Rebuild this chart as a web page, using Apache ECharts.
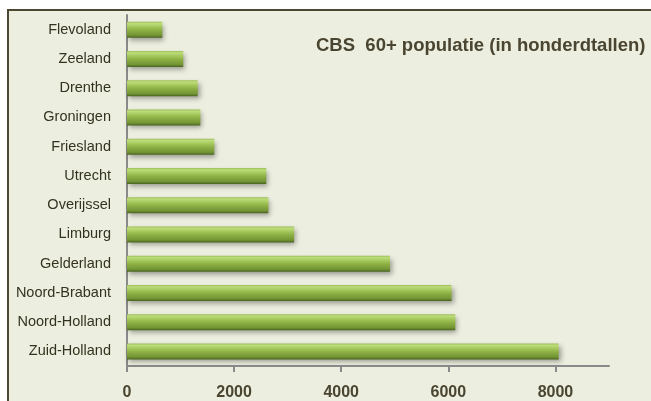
<!DOCTYPE html>
<html>
<head>
<meta charset="utf-8">
<script src="https://cdn.jsdelivr.net/npm/echarts@6/dist/echarts.min.js"></script>
<style>
html,body{margin:0;padding:0;background:#ffffff;width:651px;height:401px;overflow:hidden;}
#frame{position:absolute;left:7px;top:9px;width:700px;height:500px;border:2px solid #4b4732;background:#eceedf;}
#chart{position:absolute;left:0;top:0;width:651px;height:401px;}
</style>
</head>
<body>
<div id="frame"></div>
<div id="chart"></div>
<script>
var categories = ["Flevoland","Zeeland","Drenthe","Groningen","Friesland","Utrecht","Overijssel","Limburg","Gelderland","Noord-Brabant","Noord-Holland","Zuid-Holland"];
var values = [660, 1050, 1320, 1370, 1630, 2600, 2640, 3120, 4910, 6060, 6130, 8060];
var tickValues = [0, 2000, 4000, 6000, 8000];
var titleText = "CBS  60+ populatie (in honderdtallen)";

var chart = echarts.init(document.getElementById('chart'), null, {renderer:'canvas'});
chart.setOption({
  backgroundColor: 'transparent',
  animation: false,
  title: {
    text: titleText,
    left: 311, top: 31,
    textStyle: {fontFamily: 'Liberation Sans', fontWeight: 'bold', fontSize: 18.5, color: '#4a4530'}
  },
  grid: {left: 127, top: 15, width: 482, height: 351, containLabel: false},
  xAxis: {
    type: 'value', min: 0, max: 9000,
    axisLine: {show: true, lineStyle: {color: '#8a8a8a', width: 2}},
    axisTick: {show: true, length: 6, lineStyle: {color: '#8a8a8a', width: 2}, customValues: tickValues},
    axisLabel: {customValues: tickValues, margin: 19, fontFamily: 'Liberation Sans', fontWeight: 'bold', fontSize: 16, color: '#4a4530',
      formatter: function (v) { return String(v); }},
    splitLine: {show: false}
  },
  yAxis: {
    type: 'category', data: categories, inverse: true,
    axisLine: {show: true, lineStyle: {color: '#8a8a8a', width: 2}},
    axisTick: {show: false},
    axisLabel: {margin: 16, fontFamily: 'Liberation Sans', fontSize: 14.5, color: '#34331f'}
  },
  series: [{
    type: 'bar', data: values, barWidth: 16,
    itemStyle: {
      color: new echarts.graphic.LinearGradient(0, 0, 0, 1, [
        {offset: 0, color: '#9aba52'},
        {offset: 0.12, color: '#bddd7c'},
        {offset: 0.3, color: '#a7ca5e'},
        {offset: 0.55, color: '#8cae43'},
        {offset: 0.85, color: '#739535'},
        {offset: 1, color: '#4a6420'}
      ]),
      shadowBlur: 5, shadowOffsetX: 2, shadowOffsetY: 3, shadowColor: 'rgba(0,0,0,0.35)'
    }
  }]
});
</script>
</body>
</html>
